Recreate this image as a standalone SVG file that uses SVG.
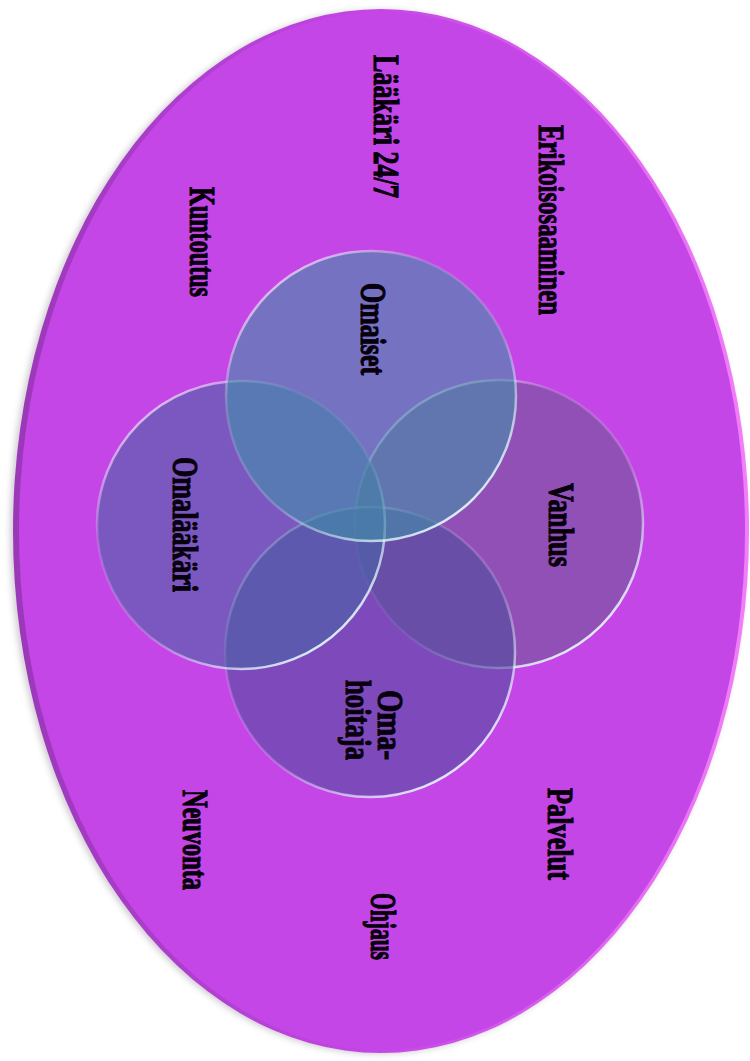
<svg xmlns="http://www.w3.org/2000/svg" width="750" height="1061" viewBox="0 0 750 1061">
  <defs>
    <linearGradient id="rim" x1="0" y1="0" x2="0.75" y2="1">
      <stop offset="0" stop-color="#ffffff" stop-opacity="0.95"/>
      <stop offset="0.35" stop-color="#ffffff" stop-opacity="0.15"/>
      <stop offset="0.65" stop-color="#e8ffff" stop-opacity="0.2"/>
      <stop offset="1" stop-color="#e8ffff" stop-opacity="0.95"/>
    </linearGradient>
    <linearGradient id="edge" x1="0" y1="0" x2="1" y2="0">
      <stop offset="0" stop-color="#9a38b8"/>
      <stop offset="0.5" stop-color="#c546e6"/>
      <stop offset="1" stop-color="#f27ef9"/>
    </linearGradient>
    <filter id="soft" x="-5%" y="-5%" width="110%" height="110%">
      <feGaussianBlur stdDeviation="3"/>
    </filter>
    <style>
      .lbl { font-family: "Liberation Serif", "Times New Roman", serif; font-weight: bold; font-size: 36px; fill: #07000c; stroke: #07000c; stroke-width: 1.1; }
      .circ { stroke: url(#rim); stroke-width: 2.5; }
    </style>
  </defs>

  <g id="background">
    <ellipse cx="378" cy="532" rx="368" ry="522" fill="#7a6a80" opacity="0.35" filter="url(#soft)"/>
    <ellipse cx="381" cy="531" rx="368" ry="522" fill="url(#edge)"/>
    <ellipse cx="382" cy="531" rx="363" ry="519" fill="#c546e6"/>
  </g>

  <g id="node-vanhus">
    <circle class="circ" cx="499" cy="524" r="144" fill="#6e5794" fill-opacity="0.6"/>
    <text class="lbl" transform="translate(549,483) rotate(90)" textLength="84" lengthAdjust="spacingAndGlyphs">Vanhus</text>
  </g>

  <g id="node-omahoitaja">
    <circle class="circ" cx="370" cy="652" r="145" fill="#4e4c9e" fill-opacity="0.6"/>
    <text class="lbl" transform="translate(378,690) rotate(90)" textLength="70" lengthAdjust="spacingAndGlyphs">Oma-</text>
    <text class="lbl" transform="translate(346,680) rotate(90)" textLength="80" lengthAdjust="spacingAndGlyphs">hoitaja</text>
  </g>

  <g id="node-omalaakari">
    <circle class="circ" cx="241" cy="525" r="144" fill="#4864a7" fill-opacity="0.6"/>
    <text class="lbl" transform="translate(173,457) rotate(90)" textLength="135" lengthAdjust="spacingAndGlyphs">Omalääkäri</text>
  </g>

  <g id="node-omaiset">
    <circle class="circ" cx="371" cy="396" r="145" fill="#4190aa" fill-opacity="0.6"/>
    <text class="lbl" transform="translate(361,283) rotate(90)" textLength="92" lengthAdjust="spacingAndGlyphs">Omaiset</text>
  </g>

  <g id="connectors"></g>

  <g id="outer-labels">
    <text class="lbl" transform="translate(374,55) rotate(90)" textLength="143" lengthAdjust="spacingAndGlyphs">Lääkäri 24/7</text>
    <text class="lbl" transform="translate(539,125) rotate(90)" textLength="190" lengthAdjust="spacingAndGlyphs">Erikoisosaaminen</text>
    <text class="lbl" transform="translate(190,187) rotate(90)" textLength="110" lengthAdjust="spacingAndGlyphs">Kuntoutus</text>
    <text class="lbl" transform="translate(183,790) rotate(90)" textLength="100" lengthAdjust="spacingAndGlyphs">Neuvonta</text>
    <text class="lbl" transform="translate(548,788) rotate(90)" textLength="92" lengthAdjust="spacingAndGlyphs">Palvelut</text>
    <text class="lbl" transform="translate(371,893) rotate(90)" textLength="67" lengthAdjust="spacingAndGlyphs">Ohjaus</text>
  </g>
</svg>
